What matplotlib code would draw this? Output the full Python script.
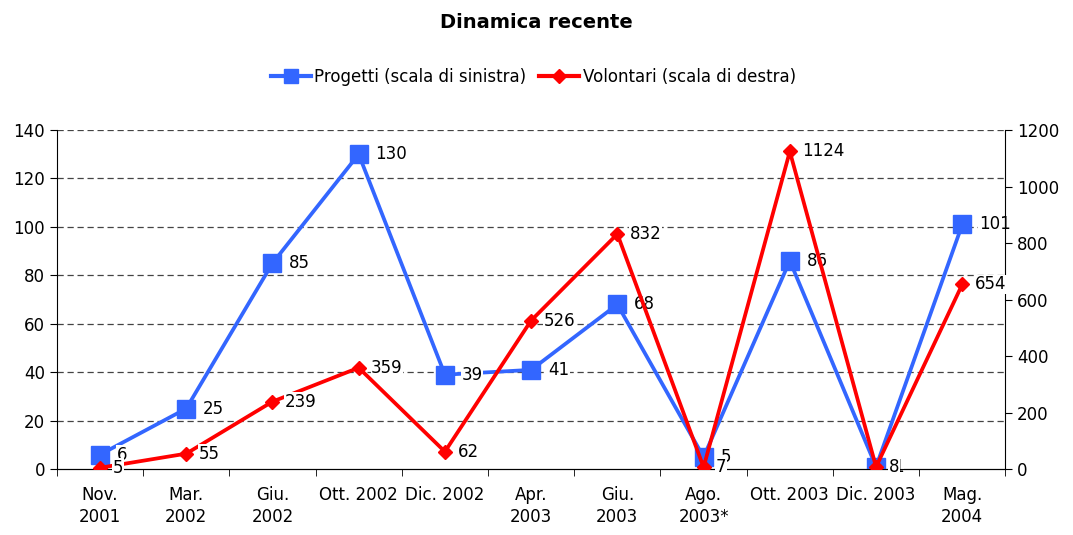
import numpy as np
import matplotlib
matplotlib.use("Agg")
import matplotlib.pyplot as plt
from matplotlib.lines import Line2D

plt.rcParams['font.family'] = ['DejaVu Sans']

categories = ["Nov.\n2001", "Mar.\n2002", "Giu.\n2002", "Ott. 2002", "Dic. 2002",
              "Apr.\n2003", "Giu.\n2003", "Ago.\n2003*", "Ott. 2003", "Dic. 2003",
              "Mag.\n2004"]
progetti = [6, 25, 85, 130, 39, 41, 68, 5, 86, 1, 101]
volontari = [5, 55, 239, 359, 62, 526, 832, 7, 1124, 8, 654]

blue = "#3366FF"
red = "#FF0000"

fig = plt.figure(figsize=(10.73, 5.35), dpi=100)
ax = fig.add_axes([0.053, 0.123, 0.884, 0.634])
ax2 = ax.twinx()

x = np.arange(len(categories))

ax.set_xlim(-0.5, len(categories) - 0.5)
ax.set_ylim(0, 140)
ax.set_yticks(range(0, 141, 20))
ax2.set_ylim(0, 1200)
ax2.set_yticks(range(0, 1201, 200))

for v in range(20, 141, 20):
    ax.axhline(v, color="#444444", lw=0.9, ls=(0, (5, 3)), zorder=0)

ax.plot(x, progetti, color=blue, lw=2.7, marker="s", ms=12.5, zorder=3)
ax2.plot(x, volontari, color=red, lw=2.7, marker="D", ms=7.5, zorder=4)

for xi, v in zip(x, progetti):
    ax.annotate(str(v), (xi, v), xytext=(12, 0), textcoords="offset points",
                va="center", ha="left", fontsize=12,
                bbox=dict(facecolor="white", edgecolor="none", pad=0.5), zorder=5)
for xi, v in zip(x, volontari):
    ax2.annotate(str(v), (xi, v), xytext=(9, 0), textcoords="offset points",
                 va="center", ha="left", fontsize=12,
                 bbox=dict(facecolor="white", edgecolor="none", pad=0.5), zorder=6)

ax.set_xticks(x)
ax.set_xticklabels(categories, fontsize=12, va="top", linespacing=1.3)
ax.tick_params(axis="x", length=0, pad=12)
ax.set_xticks(np.arange(-0.5, len(categories), 1), minor=True)
ax.tick_params(axis="x", which="minor", length=5, direction="out")
ax.tick_params(axis="y", labelsize=12, length=5)
ax2.tick_params(axis="y", labelsize=12, length=5)

for a in (ax, ax2):
    a.spines["top"].set_visible(False)
ax.spines["right"].set_visible(False)
ax2.spines["left"].set_visible(False)

fig.text(0.5, 0.958, "Dinamica recente", ha="center", va="center",
         fontsize=14, fontweight="bold")

handles = [Line2D([], [], color=blue, lw=3, marker="s", ms=10),
           Line2D([], [], color=red, lw=3, marker="D", ms=7)]
fig.legend(handles, ["Progetti (scala di sinistra)", "Volontari (scala di destra)"],
           loc="center", bbox_to_anchor=(0.497, 0.856), ncol=2, frameon=False,
           fontsize=12, handlelength=2.4, handletextpad=0.2, columnspacing=0.8)

fig.savefig("out.png", dpi=100)
